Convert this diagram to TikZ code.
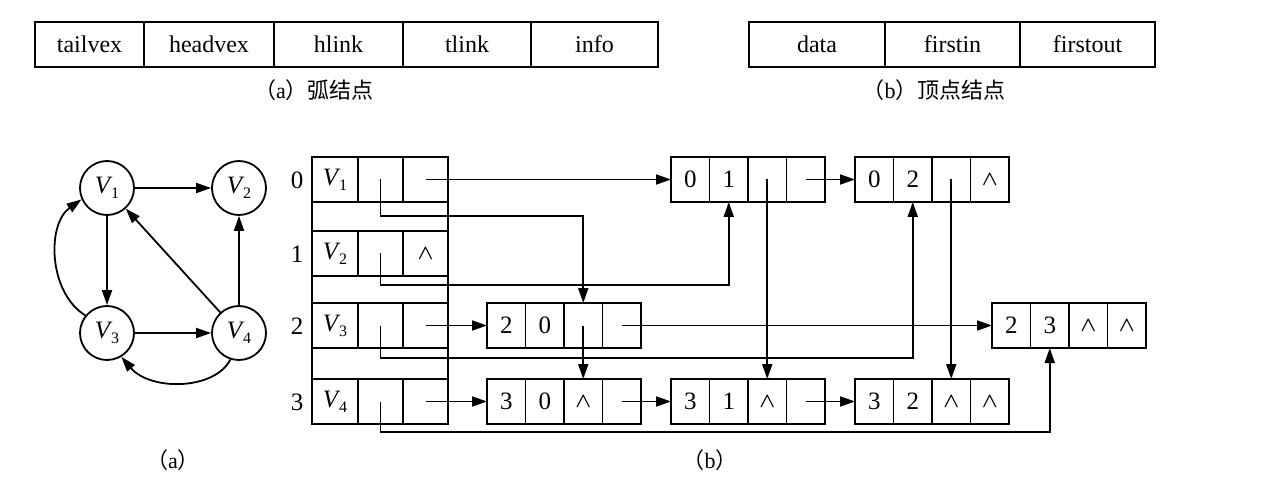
\documentclass[tikz,border=0pt]{standalone}
\usepackage{fontspec}
\setmainfont{Liberation Serif}
\newfontfamily\cjk{Noto Sans CJK SC}
\usetikzlibrary{arrows.meta}
\newcommand\vlab[1]{\textit{V}\kern-1.5pt\raisebox{-5pt}{\fontsize{16}{16}\selectfont #1}}
\newcommand\nullp{{\fontsize{21}{21}\selectfont$\boldsymbol{\wedge}$}}
\newcommand\myrec[7]{%
  \node[acell] (#1-1) at (#2,#3) {#4};
  \node[acell] (#1-2) at (#1-1.north east) {#5};
  \node[acell] (#1-3) at (#1-2.north east) {#6};
  \node[acell] (#1-4) at (#1-3.north east) {#7};
}
\usepackage{amsmath}
\begin{document}
\begin{tikzpicture}[x=1pt,y=-1pt,
  every node/.style={font=\fontsize{25}{29}\selectfont},
  box/.style={draw, line width=1.9pt, inner sep=0pt, outer sep=0pt, anchor=north west, minimum height=45pt},
  acell/.style={box, minimum width=38.5pt},
  hdcell/.style={box, font=\fontsize{24}{28}\selectfont},
  vnode/.style={draw, circle, line width=1.8pt, minimum size=54pt, inner sep=0pt},
  link/.style={line width=1.8pt, -{Triangle[length=15pt,width=10pt]}},
  captxt/.style={font=\fontsize{22}{26}\selectfont}
]
\useasboundingbox (0,0) rectangle (1264,489);

% top: arc node structure
\node[hdcell, minimum width=109pt] (f1) at (35,22) {tailvex};
\node[hdcell, minimum width=130pt] (f2) at (f1.north east) {headvex};
\node[hdcell, minimum width=129pt] (f3) at (f2.north east) {hlink};
\node[hdcell, minimum width=128pt] (f4) at (f3.north east) {tlink};
\node[hdcell, minimum width=127pt] (f5) at (f4.north east) {info};
\node[captxt] (ca) at (314,90) {{\cjk （}a{\cjk ）弧结点}};

% top: vertex node structure
\node[hdcell, minimum width=136pt] (g1) at (749,22) {data};
\node[hdcell, minimum width=135pt] (g2) at (g1.north east) {firstin};
\node[hdcell, minimum width=135pt] (g3) at (g2.north east) {firstout};
\node[captxt] (cb) at (934,90) {{\cjk （}b{\cjk ）顶点结点}};

% graph (a)
\node[vnode] (V1) at (107,188) {\vlab{1}};
\node[vnode] (V2) at (239,188) {\vlab{2}};
\node[vnode] (V3) at (107,333) {\vlab{3}};
\node[vnode] (V4) at (239,333) {\vlab{4}};
\draw[link] (V1) -- (V2);
\draw[link] (V1) -- (V3);
\draw[link] (V4) -- (V1);
\draw[link] (V4) -- (V2);
\draw[link] (V3) -- (V4);
\draw[link] (V3.141) .. controls +(-37,-23) and +(-35,25) .. (V1.204);
\draw[link] (V4.252) .. controls +(-16,31) and +(29,34) .. (V3.-59);
\node[captxt] (la) at (173,460) {{\cjk （}a{\cjk ）}};

% vertex table
\node[box, minimum width=46pt] (v0d) at (312,157) {\vlab{1}};
\node[box, minimum width=45pt] (v0i) at (v0d.north east) {};
\node[box, minimum width=45pt] (v0o) at (v0i.north east) {};
\node[box, minimum width=46pt] (v1d) at (312,231) {\vlab{2}};
\node[box, minimum width=45pt] (v1i) at (v1d.north east) {};
\node[box, minimum width=45pt] (v1o) at (v1i.north east) {\nullp};
\node[box, minimum width=46pt] (v2d) at (312,303) {\vlab{3}};
\node[box, minimum width=45pt] (v2i) at (v2d.north east) {};
\node[box, minimum width=45pt] (v2o) at (v2i.north east) {};
\node[box, minimum width=46pt] (v3d) at (312,379) {\vlab{4}};
\node[box, minimum width=45pt] (v3i) at (v3d.north east) {};
\node[box, minimum width=45pt] (v3o) at (v3i.north east) {};
\draw[line width=1.9pt] (v0d.north west) rectangle (v3o.south east);
\node (i0) at (297,180) {0};
\node (i1) at (297,254) {1};
\node (i2) at (297,326) {2};
\node (i3) at (297,402) {3};

% arc nodes
\myrec{a01}{671}{157}{0}{1}{}{}
\myrec{a02}{855}{157}{0}{2}{}{\nullp}
\myrec{a20}{487}{303}{2}{0}{}{}
\myrec{a23}{992}{303}{2}{3}{\nullp}{\nullp}
\myrec{a30}{487}{379}{3}{0}{\nullp}{}
\myrec{a31}{671}{379}{3}{1}{\nullp}{}
\myrec{a32}{855}{379}{3}{2}{\nullp}{\nullp}

% firstout links
\draw[link] (v0o.center) -- (a01-1.west);
\draw[link] (v2o.center) -- (a20-1.west);
\draw[link] (v3o.center) -- (a30-1.west);
% firstin links
\draw[link] (v0i.center) -- ++(0,36.5) -| (a20-3.north);
\draw[link] (v1i.center) -- ++(0,31.5) -| (a01-2.south);
\draw[link] (v2i.center) -- ++(0,32.5) -| (a02-2.south);
\draw[link] (v3i.center) -- ++(0,30.5) -| (a23-2.south);
% tlinks
\draw[link] (a01-4.center) -- (a02-1.west);
\draw[link] (a20-4.center) -- (a23-1.west);
\draw[link] (a30-4.center) -- (a31-1.west);
\draw[link] (a31-4.center) -- (a32-1.west);
% hlinks
\draw[link] (a01-3.center) -- (a31-3.north);
\draw[link] (a02-3.center) -- (a32-3.north);
\draw[link] (a20-3.center) -- (a30-3.north);

\node[captxt] (lb) at (710,460) {{\cjk （}b{\cjk ）}};
\end{tikzpicture}
\end{document}
